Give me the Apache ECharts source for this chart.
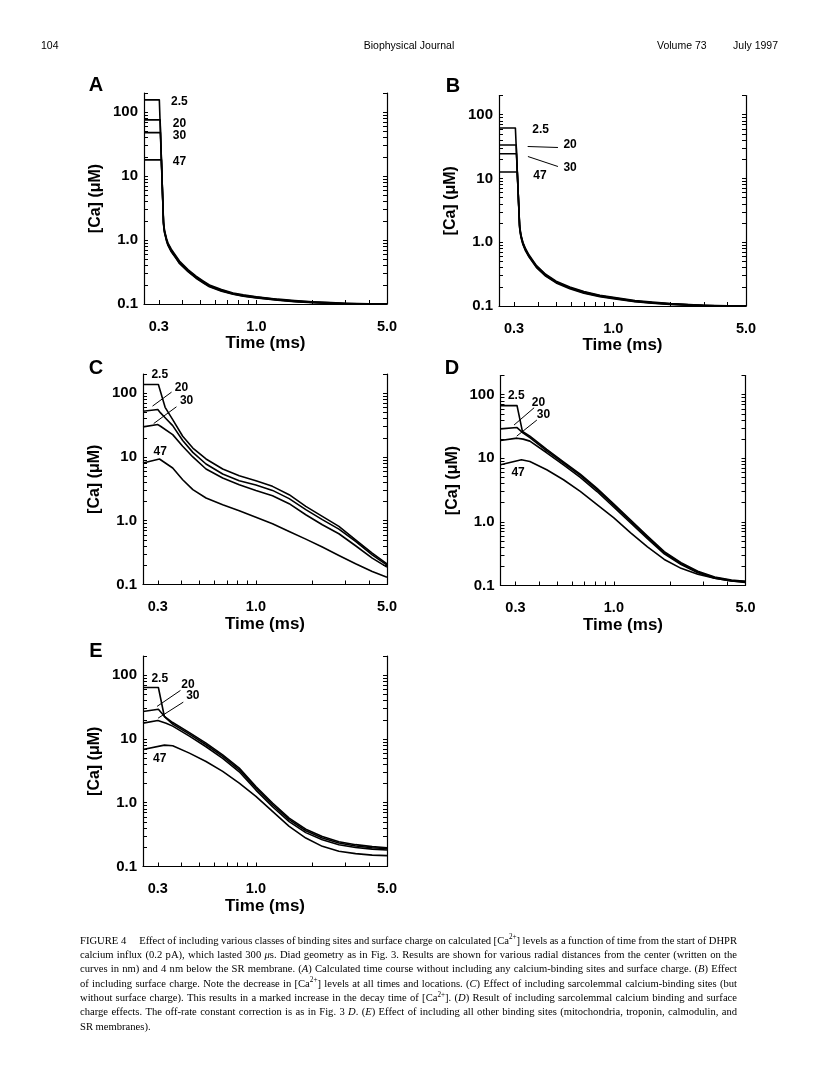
<!DOCTYPE html>
<html><head><meta charset="utf-8">
<script src="https://cdn.jsdelivr.net/npm/echarts@6/dist/echarts.min.js"></script>
<style>html,body{margin:0;padding:0;background:#fff}#c{width:816px;height:1078px}</style>
</head><body><div id="c"></div>
<script>
// ---------------- DATA ----------------
const DISTANCES = ['2.5', '20', '30', '47'];
const X_TICKS = [0.3, 0.4, 0.5, 0.6, 0.7, 0.8, 0.9, 1, 2, 3, 4, 5];
const X_LABELS = [0.3, 1.0, 5.0];
const Y_TICKS = [0.2, 0.3, 0.4, 0.5, 0.6, 0.7, 0.8, 0.9, 1, 2, 3, 4, 5, 6, 7, 8, 9, 10, 20, 30, 40, 50, 60, 70, 80, 90, 100, 200];
const Y_LABELS = [0.1, 1, 10, 100];

// Panel A
const tA_25 = [0.25, 0.302, 0.318, 0.322, 0.33, 0.336, 0.35, 0.37, 0.387, 0.43, 0.475, 0.52, 0.56, 0.65, 0.75, 0.85, 1.0, 1.3, 1.6, 2.0, 2.5, 3.0, 4.0, 5.0];
const cA_25 = [156, 156, 1.95, 1.42, 1.06, 0.9, 0.72, 0.57, 0.47, 0.345, 0.272, 0.228, 0.198, 0.168, 0.149, 0.139, 0.13, 0.119, 0.113, 0.108, 0.105, 0.103, 0.101, 0.1];
const tA_20 = [0.25, 0.305, 0.318, 0.322, 0.33, 0.336, 0.35, 0.37, 0.387, 0.43, 0.475, 0.52, 0.56, 0.65, 0.75, 0.85, 1.0, 1.3, 1.6, 2.0, 2.5, 3.0, 4.0, 5.0];
const cA_20 = [76, 76, 1.85, 1.37, 1.02, 0.87, 0.69, 0.55, 0.45, 0.335, 0.265, 0.222, 0.193, 0.164, 0.146, 0.136, 0.128, 0.117, 0.111, 0.107, 0.104, 0.102, 0.1, 0.1];
const tA_30 = [0.25, 0.306, 0.318, 0.322, 0.33, 0.336, 0.35, 0.37, 0.387, 0.43, 0.475, 0.52, 0.56, 0.65, 0.75, 0.85, 1.0, 1.3, 1.6, 2.0, 2.5, 3.0, 4.0, 5.0];
const cA_30 = [48, 48, 1.8, 1.33, 0.99, 0.845, 0.67, 0.535, 0.44, 0.327, 0.259, 0.217, 0.189, 0.161, 0.144, 0.134, 0.126, 0.116, 0.11, 0.106, 0.103, 0.101, 0.1, 0.1];
const tA_47 = [0.25, 0.31, 0.318, 0.322, 0.33, 0.336, 0.35, 0.37, 0.387, 0.43, 0.475, 0.52, 0.56, 0.65, 0.75, 0.85, 1.0, 1.3, 1.6, 2.0, 2.5, 3.0, 4.0, 5.0];
const cA_47 = [18, 18, 1.75, 1.3, 0.97, 0.825, 0.655, 0.525, 0.43, 0.32, 0.253, 0.213, 0.186, 0.159, 0.142, 0.132, 0.124, 0.115, 0.109, 0.105, 0.102, 0.101, 0.1, 0.1];
const labA = [[0.387, 146], [0.387, 67.3], [0.387, 43], [0.387, 16.6]];
const leadA = [];

// Panel B
const tB_25 = [0.25, 0.305, 0.321, 0.326, 0.334, 0.345, 0.36, 0.394, 0.44, 0.5, 0.59, 0.7, 0.85, 1.0, 1.3, 1.6, 2.0, 2.5, 3.0, 4.0, 5.0];
const cB_25 = [61.7, 61.7, 1.85, 1.32, 1.0, 0.79, 0.63, 0.43, 0.315, 0.245, 0.198, 0.168, 0.147, 0.137, 0.122, 0.115, 0.109, 0.105, 0.103, 0.101, 0.1];
const tB_20 = [0.25, 0.308, 0.321, 0.326, 0.334, 0.345, 0.36, 0.394, 0.44, 0.5, 0.59, 0.7, 0.85, 1.0, 1.3, 1.6, 2.0, 2.5, 3.0, 4.0, 5.0];
const cB_20 = [33.4, 33.4, 1.78, 1.28, 0.97, 0.765, 0.61, 0.418, 0.307, 0.239, 0.194, 0.165, 0.144, 0.134, 0.12, 0.113, 0.108, 0.104, 0.102, 0.1, 0.1];
const tB_30 = [0.25, 0.309, 0.321, 0.326, 0.334, 0.345, 0.36, 0.394, 0.44, 0.5, 0.59, 0.7, 0.85, 1.0, 1.3, 1.6, 2.0, 2.5, 3.0, 4.0, 5.0];
const cB_30 = [24.4, 24.4, 1.73, 1.25, 0.95, 0.75, 0.6, 0.41, 0.301, 0.235, 0.191, 0.162, 0.142, 0.132, 0.118, 0.112, 0.107, 0.104, 0.102, 0.1, 0.1];
const tB_47 = [0.25, 0.312, 0.321, 0.326, 0.334, 0.345, 0.36, 0.394, 0.44, 0.5, 0.59, 0.7, 0.85, 1.0, 1.3, 1.6, 2.0, 2.5, 3.0, 4.0, 5.0];
const cB_47 = [12.6, 12.6, 1.68, 1.21, 0.92, 0.73, 0.585, 0.4, 0.295, 0.23, 0.187, 0.159, 0.14, 0.13, 0.117, 0.111, 0.106, 0.103, 0.101, 0.1, 0.1];
const labB = [[0.414, 57.9], [0.592, 33.6], [0.592, 15.0], [0.411, 11.0]];
const leadB = [[[0.354, 31.7], [0.511, 30.6]], [[0.355, 22.1], [0.511, 15.4]]];

// Panel C
const tC_25 = [0.25, 0.302, 0.328, 0.36, 0.407, 0.461, 0.542, 0.665, 0.815, 1.0, 1.226, 1.504, 1.845, 2.26, 2.77, 3.40, 4.17, 5.0];
const cC_25 = [137, 137, 60, 38.6, 21.1, 13.8, 9.3, 6.48, 5.09, 4.25, 3.46, 2.56, 1.68, 1.17, 0.815, 0.503, 0.311, 0.211];
const tC_20 = [0.25, 0.3, 0.31, 0.33, 0.36, 0.407, 0.461, 0.542, 0.665, 0.815, 1.0, 1.226, 1.504, 1.845, 2.26, 2.77, 3.40, 4.17, 5.0];
const cC_20 = [52.1, 55.4, 49.1, 40.5, 31.0, 18.1, 11.8, 7.76, 5.41, 4.25, 3.63, 2.99, 2.22, 1.49, 1.04, 0.74, 0.473, 0.292, 0.201];
const tC_30 = [0.25, 0.3, 0.31, 0.36, 0.407, 0.461, 0.542, 0.665, 0.815, 1.0, 1.226, 1.504, 1.845, 2.26, 2.77, 3.40, 4.17, 5.0];
const cC_30 = [29.6, 32.2, 30.3, 22.4, 14.7, 10.0, 6.48, 4.68, 3.68, 2.99, 2.47, 1.85, 1.24, 0.865, 0.625, 0.405, 0.259, 0.187];
const tC_47 = [0.25, 0.306, 0.36, 0.407, 0.461, 0.542, 0.665, 0.815, 1.0, 1.226, 1.504, 1.845, 2.26, 2.77, 3.40, 4.17, 5.0];
const cC_47 = [8.05, 9.3, 6.72, 4.40, 3.07, 2.27, 1.78, 1.44, 1.13, 0.897, 0.680, 0.515, 0.386, 0.285, 0.211, 0.160, 0.130];
const labC = [[0.307, 198], [0.401, 122], [0.427, 75.2], [0.309, 12.3]];
const leadC = [[[0.281, 62.7], [0.355, 104]], [[0.285, 33.4], [0.377, 61.2]]];

// Panel D
const tD_25 = [0.25, 0.306, 0.327, 0.358, 0.44, 0.54, 0.663, 0.814, 1.0, 1.228, 1.508, 1.852, 2.275, 2.79, 3.43, 4.21, 5.0];
const cD_25 = [67.3, 67.3, 26.3, 22.3, 13.8, 8.8, 5.65, 3.37, 1.91, 1.07, 0.60, 0.34, 0.228, 0.168, 0.136, 0.122, 0.116];
const tD_20 = [0.25, 0.306, 0.33, 0.358, 0.44, 0.54, 0.663, 0.814, 1.0, 1.228, 1.508, 1.852, 2.275, 2.79, 3.43, 4.21, 5.0];
const cD_20 = [29.0, 30.4, 24.8, 21.2, 13.1, 8.4, 5.38, 3.21, 1.82, 1.02, 0.575, 0.327, 0.22, 0.163, 0.133, 0.12, 0.115];
const tD_30 = [0.25, 0.306, 0.33, 0.358, 0.44, 0.54, 0.663, 0.814, 1.0, 1.228, 1.508, 1.852, 2.275, 2.79, 3.43, 4.21, 5.0];
const cD_30 = [19.0, 20.7, 20.0, 18.6, 12.2, 7.85, 5.0, 3.0, 1.7, 0.96, 0.545, 0.315, 0.213, 0.158, 0.13, 0.118, 0.114];
const tD_47 = [0.25, 0.323, 0.358, 0.44, 0.54, 0.663, 0.814, 1.0, 1.228, 1.508, 1.852, 2.275, 2.79, 3.43, 4.21, 5.0];
const cD_47 = [7.91, 9.48, 8.92, 6.61, 4.60, 3.02, 1.87, 1.16, 0.673, 0.406, 0.257, 0.186, 0.150, 0.130, 0.118, 0.112];
const labD = [[0.303, 95], [0.398, 74.7], [0.423, 48.9], [0.31, 5.85]];
const leadD = [[[0.295, 33.3], [0.377, 62.2]], [[0.305, 22.3], [0.390, 39.9]]];

// Panel E
const tE_25 = [0.25, 0.302, 0.325, 0.36, 0.442, 0.542, 0.665, 0.815, 1.0, 1.226, 1.504, 1.845, 2.26, 2.77, 3.40, 4.17, 5.0];
const cE_25 = [64.1, 64.1, 22.5, 18.1, 12.6, 8.6, 5.64, 3.49, 1.80, 0.99, 0.575, 0.385, 0.295, 0.245, 0.22, 0.205, 0.197];
const tE_20 = [0.25, 0.302, 0.332, 0.36, 0.442, 0.542, 0.665, 0.815, 1.0, 1.226, 1.504, 1.845, 2.26, 2.77, 3.40, 4.17, 5.0];
const cE_20 = [27.0, 29.3, 21.2, 17.1, 11.9, 8.11, 5.32, 3.29, 1.70, 0.93, 0.542, 0.364, 0.279, 0.233, 0.210, 0.197, 0.190];
const tE_30 = [0.25, 0.3, 0.332, 0.36, 0.442, 0.542, 0.665, 0.815, 1.0, 1.226, 1.504, 1.845, 2.26, 2.77, 3.40, 4.17, 5.0];
const cE_30 = [17.7, 19.5, 17.7, 15.9, 11.1, 7.55, 4.95, 3.06, 1.58, 0.865, 0.505, 0.34, 0.262, 0.22, 0.199, 0.187, 0.181];
const tE_47 = [0.25, 0.325, 0.36, 0.442, 0.542, 0.665, 0.815, 1.0, 1.226, 1.504, 1.845, 2.26, 2.77, 3.40, 4.17, 5.0];
const cE_47 = [6.85, 8.0, 7.82, 6.0, 4.44, 3.10, 2.03, 1.26, 0.731, 0.426, 0.279, 0.207, 0.173, 0.159, 0.151, 0.148];
const labE = [[0.307, 89.7], [0.434, 71.4], [0.461, 46.9], [0.307, 4.9]];
const leadE = [[[0.297, 32.4], [0.396, 57.7]], [[0.301, 21.2], [0.410, 37.8]]];

// Texts
const HEADER_LEFT = '104';
const HEADER_CENTER = 'Biophysical Journal';
const HEADER_RIGHT_A = 'Volume 73';
const HEADER_RIGHT_B = 'July 1997';
const CAPTION_LINES = [
  'FIGURE\u00a04\u2003 Effect of including various classes of binding sites and surface charge on calculated [Ca^{2+}] levels as a function of time from the start of DHPR',
  'calcium influx (0.2 pA), which lasted 300 _\u03bc_s. Diad geometry as in Fig. 3. Results are shown for various radial distances from the center (written on the',
  'curves in nm) and 4 nm below the SR membrane. (_A_) Calculated time course without including any calcium-binding sites and surface charge. (_B_) Effect',
  'of including surface charge. Note the decrease in [Ca^{2+}] levels at all times and locations. (_C_) Effect of including sarcolemmal calcium-binding sites (but',
  'without surface charge). This results in a marked increase in the decay time of [Ca^{2+}]. (_D_) Result of including sarcolemmal calcium binding and surface',
  'charge effects. The off-rate constant correction is as in Fig. 3 _D_. (_E_) Effect of including all other binding sites (mitochondria, troponin, calmodulin, and',
  'SR membranes).'
];

// ---------------- LAYOUT ----------------
const PANELS = [
  { letter: 'A', times: [tA_25, tA_20, tA_30, tA_47], vals: [cA_25, cA_20, cA_30, cA_47], labs: labA, leads: leadA,
    grid: { left: 144, top: 93, width: 243, height: 211 }, letterPos: [96, 85] },
  { letter: 'B', times: [tB_25, tB_20, tB_30, tB_47], vals: [cB_25, cB_20, cB_30, cB_47], labs: labB, leads: leadB,
    grid: { left: 499, top: 95.5, width: 247, height: 210.5 }, letterPos: [453, 86] },
  { letter: 'C', times: [tC_25, tC_20, tC_30, tC_47], vals: [cC_25, cC_20, cC_30, cC_47], labs: labC, leads: leadC,
    grid: { left: 143, top: 374, width: 244, height: 210.5 }, letterPos: [96, 368] },
  { letter: 'D', times: [tD_25, tD_20, tD_30, tD_47], vals: [cD_25, cD_20, cD_30, cD_47], labs: labD, leads: leadD,
    grid: { left: 500.5, top: 375.5, width: 245, height: 210 }, letterPos: [452, 368] },
  { letter: 'E', times: [tE_25, tE_20, tE_30, tE_47], vals: [cE_25, cE_20, cE_30, cE_47], labs: labE, leads: leadE,
    grid: { left: 143, top: 656, width: 244, height: 210.5 }, letterPos: [96, 651] }
];

const SANS = '"Liberation Sans", Arial, Helvetica, sans-serif';
const SERIF = '"Liberation Serif", "Times New Roman", serif';
const BLACK = '#000';

function zip(t, v) { const n = Math.min(t.length, v.length); const out = []; for (let i = 0; i < n; i++) out.push([t[i], v[i]]); return out; }

const grids = [], xAxes = [], yAxes = [], series = [], graphics = [];

PANELS.forEach((p, i) => {
  grids.push(Object.assign({ containLabel: false }, p.grid));
  xAxes.push({
    type: 'log', logBase: 10, gridIndex: i, min: 0.25, max: 5,
    axisLine: { show: true, onZero: false, lineStyle: { color: BLACK, width: 1.2 } },
    axisTick: { show: true, inside: true, length: 4, customValues: X_TICKS, lineStyle: { color: BLACK, width: 1 } },
    minorTick: { show: false }, splitLine: { show: false },
    axisLabel: { show: true, customValues: X_LABELS, margin: 15, color: BLACK, fontFamily: SANS, fontWeight: 'bold', fontSize: 14.5,
      formatter: v => Number(v).toFixed(1) },
    name: 'Time (ms)', nameLocation: 'middle', nameGap: 27,
    nameTextStyle: { color: BLACK, fontFamily: SANS, fontWeight: 'bold', fontSize: 17 }
  });
  yAxes.push({
    type: 'log', logBase: 10, gridIndex: i, min: 0.1, max: 200, position: 'left',
    axisLine: { show: true, onZero: false, lineStyle: { color: BLACK, width: 1.2 } },
    axisTick: { show: true, inside: true, length: 4, customValues: Y_TICKS, lineStyle: { color: BLACK, width: 1 } },
    minorTick: { show: false }, splitLine: { show: false },
    axisLabel: { show: true, customValues: Y_LABELS, margin: 6, color: BLACK, fontFamily: SANS, fontWeight: 'bold', fontSize: 15,
      formatter: v => (v >= 10 ? String(Math.round(v)) : Number(v).toFixed(1)) },
    name: '[Ca] (\u03bcM)', nameLocation: 'middle', nameGap: 40,
    nameTextStyle: { color: BLACK, fontFamily: SANS, fontWeight: 'bold', fontSize: 16 }
  });
  yAxes.push({
    type: 'log', logBase: 10, gridIndex: i, min: 0.1, max: 200, position: 'right',
    axisLine: { show: true, onZero: false, lineStyle: { color: BLACK, width: 1.2 } },
    axisTick: { show: true, inside: true, length: 4, customValues: Y_TICKS, lineStyle: { color: BLACK, width: 1 } },
    minorTick: { show: false }, splitLine: { show: false },
    axisLabel: { show: false }
  });
  p.times.forEach((t, k) => {
    const s = {
      type: 'line', name: p.letter + ' ' + DISTANCES[k], xAxisIndex: i, yAxisIndex: 2 * i,
      data: zip(t, p.vals[k]), showSymbol: false, symbol: 'none', smooth: false, clip: true,
      lineStyle: { color: BLACK, width: 1.6, join: 'round' }, itemStyle: { color: BLACK }, silent: true, z: 3
    };
    if (k === 0) {
      s.markPoint = {
        silent: true, symbol: 'rect', symbolSize: 1, itemStyle: { color: 'rgba(0,0,0,0)' },
        label: { show: true, position: 'inside', color: BLACK, fontFamily: SANS, fontWeight: 'bold', fontSize: 12,
          formatter: d => d.name },
        data: p.labs.map((c, j) => ({ name: DISTANCES[j], coord: c }))
      };
      if (p.leads.length) {
        s.markLine = {
          silent: true, symbol: ['none', 'none'], label: { show: false },
          lineStyle: { color: BLACK, width: 1, type: 'solid' },
          data: p.leads.map(l => [{ coord: l[0] }, { coord: l[1] }])
        };
      }
    }
    series.push(s);
  });
  graphics.push({ type: 'text', x: p.letterPos[0], y: p.letterPos[1], silent: true,
    style: { text: p.letter, fill: BLACK, font: 'bold 20px ' + SANS, textAlign: 'center', textVerticalAlign: 'middle' } });
});

// Header
const HFONT = '10.5px ' + SANS;
graphics.push({ type: 'text', x: 41, y: 46, style: { text: HEADER_LEFT, fill: BLACK, font: HFONT, textAlign: 'left', textVerticalAlign: 'middle' } });
graphics.push({ type: 'text', x: 409, y: 46, style: { text: HEADER_CENTER, fill: BLACK, font: HFONT, textAlign: 'center', textVerticalAlign: 'middle' } });
graphics.push({ type: 'text', x: 657, y: 46, style: { text: HEADER_RIGHT_A, fill: BLACK, font: HFONT, textAlign: 'left', textVerticalAlign: 'middle' } });
graphics.push({ type: 'text', x: 778, y: 46, style: { text: HEADER_RIGHT_B, fill: BLACK, font: HFONT, textAlign: 'right', textVerticalAlign: 'middle' } });

// Caption (justified word by word)
const CAP_SIZE = 10.6, CAP_LEFT = 80, CAP_RIGHT = 737, CAP_TOP = 941, CAP_LH = 14.3;
const mctx = document.createElement('canvas').getContext('2d');
function parseWord(w) {
  const segs = []; const re = /\^\{([^}]*)\}|_([^_]*)_|([^^_]+)/g; let m;
  while ((m = re.exec(w))) {
    if (m[1] !== undefined) segs.push({ k: 'sup', t: m[1] });
    else if (m[2] !== undefined) segs.push({ k: 'it', t: m[2] });
    else segs.push({ k: 'n', t: m[3] });
  }
  return segs;
}
function segFont(k) {
  if (k === 'sup') return (CAP_SIZE * 0.68).toFixed(1) + 'px ' + SERIF;
  if (k === 'it') return 'italic ' + CAP_SIZE + 'px ' + SERIF;
  return CAP_SIZE + 'px ' + SERIF;
}
function segWidth(segs) { let w = 0; segs.forEach(s => { mctx.font = segFont(s.k); w += mctx.measureText(s.t).width; }); return w; }
CAPTION_LINES.forEach((line, li) => {
  const words = line.split(' ').map(parseWord);
  const widths = words.map(segWidth);
  const total = widths.reduce((a, b) => a + b, 0);
  const last = li === CAPTION_LINES.length - 1;
  mctx.font = segFont('n');
  const gap = last ? mctx.measureText(' ').width : (CAP_RIGHT - CAP_LEFT - total) / (words.length - 1);
  let x = CAP_LEFT;
  const y = CAP_TOP + li * CAP_LH;
  words.forEach((segs, wi) => {
    let sx = x;
    segs.forEach(s => {
      mctx.font = segFont(s.k);
      const w = mctx.measureText(s.t).width;
      graphics.push({ type: 'text', x: sx, y: s.k === 'sup' ? y - 3.5 : y, silent: true,
        style: { text: s.t, fill: BLACK, font: segFont(s.k), textAlign: 'left', textVerticalAlign: 'middle' } });
      sx += w;
    });
    x += widths[wi] + gap;
  });
});

const chart = echarts.init(document.getElementById('c'), null, { renderer: 'canvas', width: 816, height: 1078 });
chart.setOption({
  backgroundColor: '#fff', animation: false,
  textStyle: { fontFamily: SANS },
  grid: grids, xAxis: xAxes, yAxis: yAxes, series: series, graphic: graphics
});
</script></body></html>
